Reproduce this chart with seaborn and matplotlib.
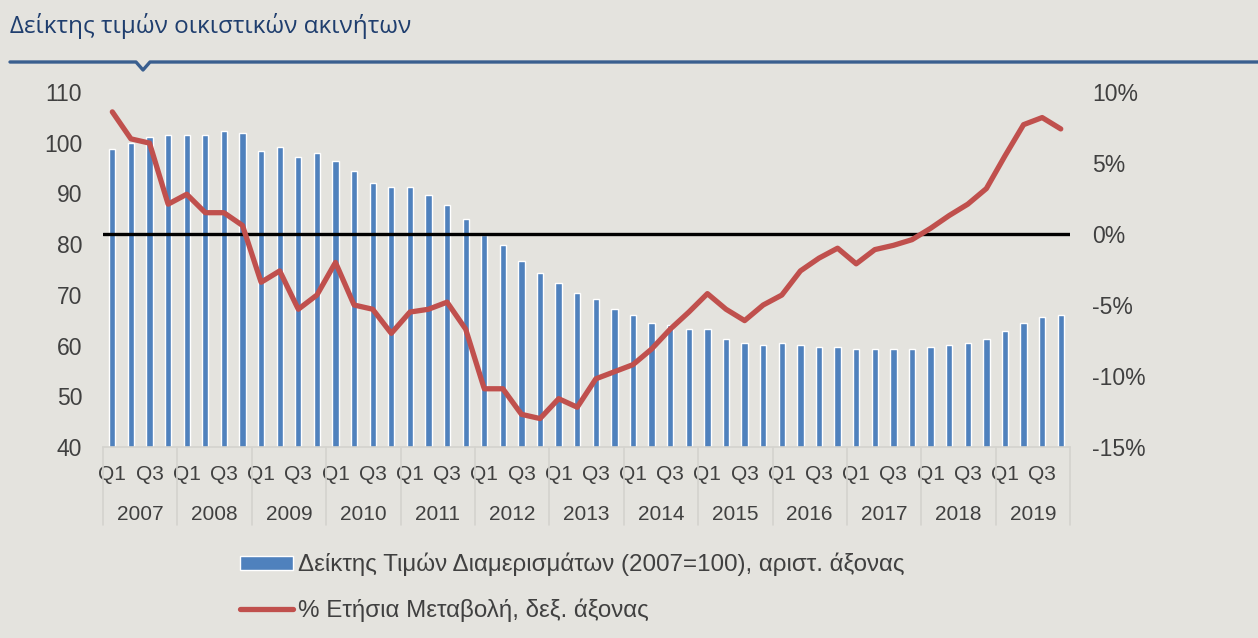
import numpy as np
import pandas as pd
import seaborn as sns
import matplotlib.pyplot as plt
from matplotlib.lines import Line2D

# data
years = list(range(2007, 2020))
quarters = ["Q1", "Q2", "Q3", "Q4"]
price_index = [
    98.7, 99.9, 101.1, 101.5,
    101.5, 101.5, 102.3, 101.9,
    98.3, 99.1, 97.1, 97.9,
    96.4, 94.4, 92.0, 91.2,
    91.2, 89.6, 87.7, 84.9,
    81.8, 79.8, 76.6, 74.3,
    72.3, 70.3, 69.1, 67.2,
    66.0, 64.4, 64.0, 63.2,
    63.2, 61.3, 60.5, 60.1,
    60.5, 60.1, 59.7, 59.7,
    59.3, 59.3, 59.3, 59.3,
    59.7, 60.1, 60.5, 61.2,
    62.8, 64.4, 65.6, 66.0,
]
yoy_change = [
    8.6, 6.7, 6.4, 2.1,
    2.8, 1.5, 1.5, 0.6,
    -3.4, -2.6, -5.3, -4.3,
    -2.0, -5.0, -5.3, -7.0,
    -5.5, -5.3, -4.8, -6.7,
    -10.9, -10.9, -12.7, -13.0,
    -11.6, -12.2, -10.2, -9.7,
    -9.2, -8.1, -6.7, -5.5,
    -4.2, -5.3, -6.1, -5.0,
    -4.3, -2.6, -1.7, -1.0,
    -2.1, -1.1, -0.8, -0.4,
    0.4, 1.3, 2.1, 3.2,
    5.5, 7.7, 8.2, 7.4,
]
bar_label = "Δείκτης Τιμών Διαμερισμάτων (2007=100), αριστ. άξονας"
line_label = "% Ετήσια Μεταβολή, δεξ. άξονας"
title = "Δείκτης τιμών οικιστικών ακινήτων"

bg = "#E4E3DE"
blue = "#4F81BD"
red = "#C0504D"
txt = "#404040"

sns.set_style("white")
plt.rcParams["font.family"] = ["Liberation Sans", "DejaVu Sans"]

data = pd.DataFrame({
    "pos": np.arange(len(price_index)),
    "label": [f"{y} {q}" for y in years for q in quarters],
    "index": price_index,
    "yoy": yoy_change,
})

fig = plt.figure(figsize=(12.58, 6.38), dpi=100, facecolor=bg)
ax = fig.add_axes([0.0819, 0.2994, 0.7687, 0.5564])
ax.set_facecolor(bg)

sns.barplot(data=data, x="label", y="index", color=blue, width=0.34,
            saturation=1, ax=ax, label=bar_label)
ax.set_ylim(40, 110)
ax.set_xlim(-0.5, len(data) - 0.5)
ax.set_yticks(range(40, 111, 10))
ax.set_xlabel("")
ax.set_ylabel("")
ticks = [i for i in data["pos"] if i % 4 in (0, 2)]
ax.set_xticks(ticks)
ax.set_xticklabels([quarters[i % 4] for i in ticks])
ax.tick_params(axis="x", length=0, pad=13, labelsize=15, colors=txt)
ax.tick_params(axis="y", length=0, pad=15, labelsize=16.5, colors=txt)
for s in ["top", "right", "left"]:
    ax.spines[s].set_visible(False)
ax.spines["bottom"].set_color("#D4D3CE")
ax.spines["bottom"].set_linewidth(1.2)

# year labels and separators below the axis
tr = ax.get_xaxis_transform()
for k, y in enumerate(years):
    ax.text(4 * k + 1.5, -0.19, str(y), transform=tr, ha="center",
            va="center", fontsize=15, color=txt)
for k in range(len(years) + 1):
    ax.add_line(Line2D([4 * k - 0.5] * 2, [0, -0.22], transform=tr,
                       color="#D4D3CE", lw=1.2, clip_on=False))

ax2 = ax.twinx()
ax2.axhline(0, color="black", lw=2.4)
sns.lineplot(data=data, x="pos", y="yoy", color=red, lw=3.8, ax=ax2,
             label=line_label, legend=False, solid_joinstyle="round",
             solid_capstyle="round")
ax2.set_ylim(-15, 10)
ax2.set_yticks(range(-15, 11, 5))
ax2.set_yticklabels([f"{v}%" for v in range(-15, 11, 5)])
ax2.set_ylabel("")
ax2.tick_params(axis="y", length=0, pad=16, labelsize=16.5, colors=txt)
for s in ax2.spines.values():
    s.set_visible(False)

# legend below the chart
h1, l1 = ax.get_legend_handles_labels()
h2, l2 = ax2.get_legend_handles_labels()
if ax.get_legend():
    ax.get_legend().remove()
if ax2.get_legend():
    ax2.get_legend().remove()
fig.legend(h1 + h2, l1 + l2, loc="upper left",
           bbox_to_anchor=(240 / 1258, 1 - 553 / 638),
           bbox_transform=fig.transFigure, frameon=False, fontsize=17.4,
           labelcolor=txt, handlelength=2.2, handleheight=0.55,
           handletextpad=0.2, labelspacing=0.92, borderpad=0,
           borderaxespad=0)

# title and rule under it
fig.text(10 / 1258, 1 - 26 / 638, title, ha="left", va="center",
         fontsize=17.5, color="#1F3E6E", family=["Open Sans", "DejaVu Sans"])
W, H = fig.get_size_inches() * fig.dpi
fig.add_artist(Line2D([10 / W, 136 / W, 143 / W, 150 / W, 1.0],
                      [1 - 62 / H, 1 - 62 / H, 1 - 70 / H, 1 - 62 / H, 1 - 62 / H],
                      transform=fig.transFigure, color="#3A5F8F", lw=2.4))

fig.savefig("out.png", dpi=100, facecolor=bg)
